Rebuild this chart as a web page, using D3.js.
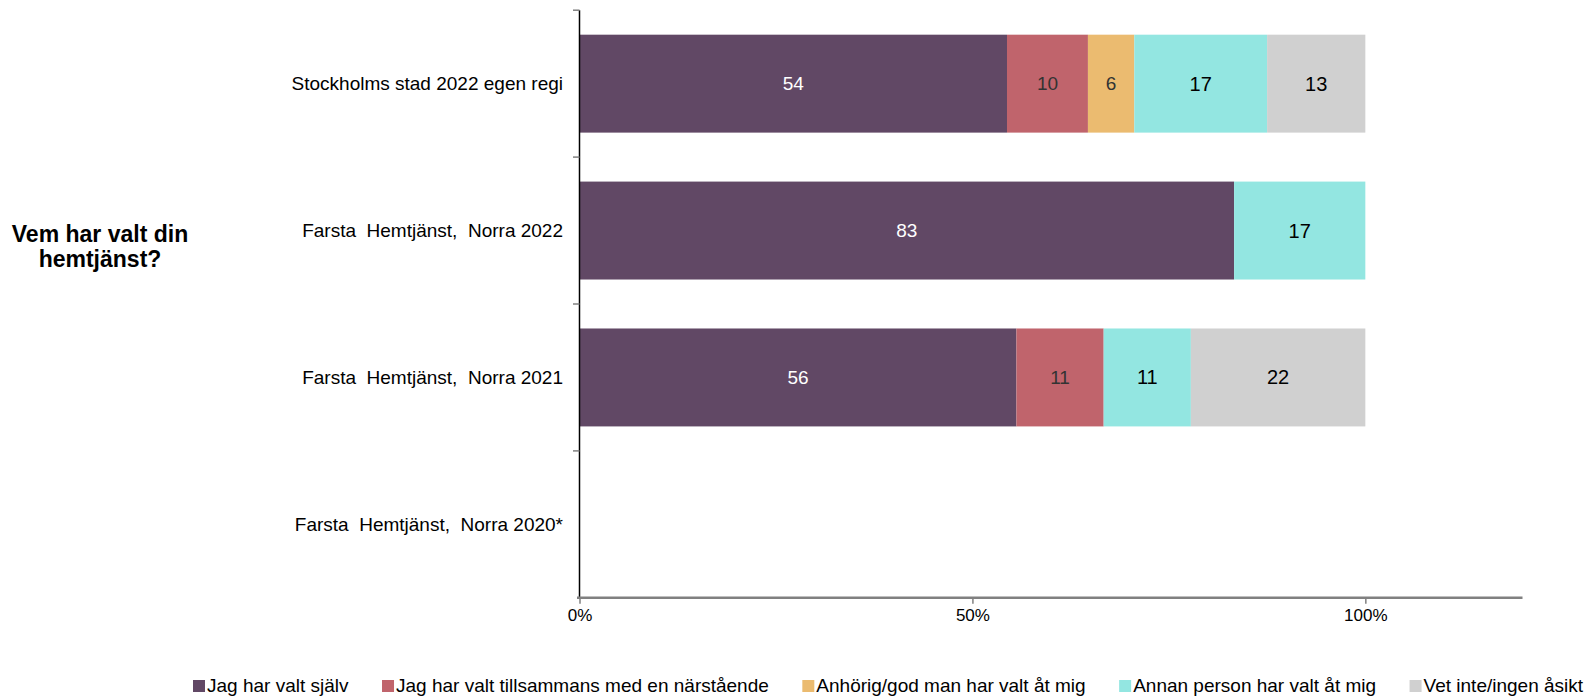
<!DOCTYPE html>
<html><head><meta charset="utf-8">
<script src="https://cdn.jsdelivr.net/npm/d3@7"></script>
<style>
html,body{margin:0;padding:0;background:#fff;}
svg text{font-family:"Liberation Sans",Arial,sans-serif;white-space:pre;}
</style></head>
<body><svg id="c" width="1586" height="699"></svg>
<script>
const categories = ["Stockholms stad 2022 egen regi","Farsta  Hemtjänst,  Norra 2022","Farsta  Hemtjänst,  Norra 2021","Farsta  Hemtjänst,  Norra 2020*"];
const seriesNames = ["Jag har valt själv","Jag har valt tillsammans med en närstående","Anhörig/god man har valt åt mig","Annan person har valt åt mig","Vet inte/ingen åsikt"];
const seriesColors = ["#614865","#C0646C","#EBBB70","#93E6E1","#D0D0D0"];
const labelColors = ["#ffffff","#333333","#333333","#000000","#000000"];
// values per series, per category (percent)
const jagSjalv      = [54.4, 83.3, 55.6, 0];
const tillsammans   = [10.3, 0,    11.1, 0];
const anhorig       = [5.9,  0,    0,    0];
const annanPerson   = [16.9, 16.7, 11.1, 0];
const vetInte       = [12.5, 0,    22.2, 0];
const xTicks = [0, 50, 100];
const xTickLabels = ["0%","50%","100%"];
const title = ["Vem har valt din","hemtjänst?"];

const series = [jagSjalv, tillsammans, anhorig, annanPerson, vetInte];
const svg = d3.select("#c");

const x = d3.scaleLinear().domain([0,120]).range([579.5,1522.5]);
const y = d3.scaleBand().domain(categories).range([10.2,597.8]).paddingInner(1/3).paddingOuter(1/6);

// bars
categories.forEach((cat,ci)=>{
  let acc = 0;
  series.forEach((vals,si)=>{
    const v = vals[ci];
    if(v<=0) return;
    const x0 = x(acc), x1 = x(acc+v);
    svg.append("rect").attr("x",x0).attr("y",y(cat)).attr("width",x1-x0).attr("height",y.bandwidth())
      .attr("fill",seriesColors[si]);
    svg.append("text").attr("x",(x0+x1)/2).attr("y",y(cat)+y.bandwidth()/2)
      .attr("text-anchor","middle").attr("dominant-baseline","central")
      .style("font-size", (si>=3?20:19)+"px").attr("fill",labelColors[si]).text(Math.round(v));
    acc += v;
  });
});

// y axis
const yAxisG = svg.append("g");
yAxisG.append("line").attr("x1",579.5).attr("x2",579.5).attr("y1",10.2).attr("y2",597.8).attr("stroke","#000").attr("stroke-width",1.5);
const bounds = [0,1,2,3].map(i=>y(categories[i]) - y.step()*y.paddingInner()/2);
bounds.forEach(b=>{
  yAxisG.append("line").attr("x1",573).attr("x2",579.5).attr("y1",b).attr("y2",b).attr("stroke","#808080").attr("stroke-width",1.5);
});
categories.forEach(cat=>{
  yAxisG.append("text").attr("x",563).attr("y",y(cat)+y.bandwidth()/2).attr("text-anchor","end")
    .attr("dominant-baseline","central").style("font-size","19px").attr("fill","#000").text(cat);
});

// x axis
const xAxis = d3.axisBottom(x).tickValues(xTicks).tickFormat((d,i)=>xTickLabels[i]).tickSize(6).tickSizeOuter(0);
const xg = svg.append("g").attr("transform","translate(0,597.8)").call(xAxis);
xg.attr("font-size",null).attr("font-family",null);
xg.select(".domain").attr("stroke","#808080").attr("stroke-width",2.5).attr("d","M577,0H1522.5");
xg.selectAll(".tick line").attr("stroke","#808080").attr("stroke-width",1.5);
xg.selectAll(".tick text").style("font-size","17px").attr("fill","#000").attr("dy","0.85em");

// title
svg.append("text").attr("x",100).attr("y",242).attr("text-anchor","middle").attr("font-weight","bold")
  .style("font-size","23px").attr("fill","#000")
  .selectAll("tspan").data(title).join("tspan").attr("x",100).attr("dy",(d,i)=>i===0?0:24.5).text(d=>d);

// legend
const lg = svg.append("g");
let lx = 193;
seriesNames.forEach((name,i)=>{
  lg.append("rect").attr("x",lx).attr("y",680).attr("width",12).attr("height",12).attr("fill",seriesColors[i]);
  const t = lg.append("text").attr("x",lx+14).attr("y",692).style("font-size","19px").attr("fill","#000").text(name);
  lx += 14 + t.node().getComputedTextLength() + 33.5;
});
</script></body></html>
